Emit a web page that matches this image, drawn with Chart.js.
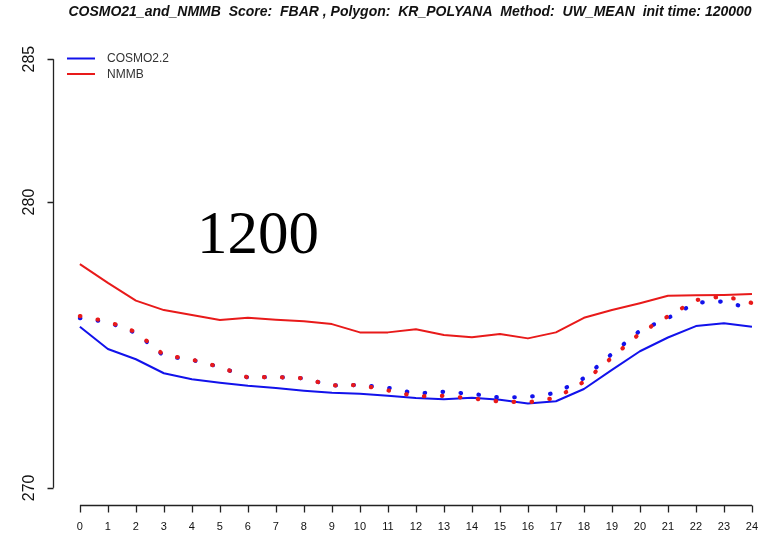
<!DOCTYPE html>
<html>
<head>
<meta charset="utf-8">
<script src="https://cdn.jsdelivr.net/npm/chart.js@4/dist/chart.umd.min.js"></script>
<style>
  html, body { margin: 0; padding: 0; background: #ffffff; }
  #wrap { width: 771px; height: 533px; }
</style>
</head>
<body>
<div id="wrap"><canvas id="c" width="771" height="533"></canvas></div>
<script>
// Forecast hour (lead time) of each value
const hours = [0, 1, 2, 3, 4, 5, 6, 7, 8, 9, 10, 11, 12, 13, 14, 15, 16, 17, 18, 19, 20, 21, 22, 23, 24];

// Model mean values (solid lines)
const cosmoMean = [275.64, 274.86, 274.50, 274.01, 273.80, 273.68, 273.57, 273.49, 273.40, 273.33, 273.29, 273.22, 273.14, 273.10, 273.15, 273.08, 272.95, 273.03, 273.46, 274.13, 274.78, 275.26, 275.66, 275.76, 275.64];
const nmmbMean  = [277.83, 277.17, 276.55, 276.22, 276.05, 275.87, 275.95, 275.88, 275.83, 275.73, 275.44, 275.44, 275.55, 275.35, 275.27, 275.38, 275.23, 275.44, 275.95, 276.22, 276.46, 276.72, 276.74, 276.75, 276.78];

// Observed means on each model's points (dotted lines)
const cosmoObs = [275.94, 275.80, 275.42, 274.62, 274.48, 274.23, 273.86, 273.88, 273.83, 273.58, 273.60, 273.50, 273.30, 273.36, 273.29, 273.16, 273.18, 273.32, 273.84, 274.69, 275.50, 275.94, 276.48, 276.52, 276.26];
const nmmbObs  = [276.01, 275.82, 275.45, 274.65, 274.49, 274.23, 273.86, 273.88, 273.83, 273.58, 273.60, 273.41, 273.20, 273.22, 273.13, 273.02, 272.99, 273.15, 273.71, 274.56, 275.41, 276.00, 276.57, 276.71, 276.47];

// Axis ticks
const xTicks = [0, 1, 2, 3, 4, 5, 6, 7, 8, 9, 10, 11, 12, 13, 14, 15, 16, 17, 18, 19, 20, 21, 22, 23, 24];
const yTicks = [270, 280, 285];

const titleText = 'COSMO21_and_NMMB  Score:  FBAR , Polygon:  KR_POLYANA  Method:  UW_MEAN  init time: 120000';
const stampText = '1200';
const legendNames = ['COSMO2.2', 'NMMB'];

const BLUE = 'rgb(18, 18, 235)';
const RED = 'rgb(232, 26, 26)';

const toPoints = (vals) => hours.map((h, i) => ({ x: h, y: vals[i] }));

// Draws the title, the detached axes, the legend and the run stamp
const decorations = {
  id: 'decorations',
  afterDraw(chart) {
    const ctx = chart.ctx;
    const xs = chart.scales.x;
    const ys = chart.scales.y;
    ctx.save();

    // title
    ctx.fillStyle = '#111';
    ctx.font = 'italic bold 14px "Liberation Sans", Arial, sans-serif';
    ctx.textAlign = 'center';
    ctx.textBaseline = 'middle';
    ctx.fillText(titleText, 410, 12);

    ctx.strokeStyle = '#222';
    ctx.lineWidth = 1.3;

    // x axis
    const xAxisY = chart.chartArea.bottom + 0.5;
    ctx.beginPath();
    ctx.moveTo(xs.getPixelForValue(xTicks[0]), xAxisY);
    ctx.lineTo(xs.getPixelForValue(xTicks[xTicks.length - 1]), xAxisY);
    xTicks.forEach(t => {
      const px = Math.round(xs.getPixelForValue(t)) + 0.5;
      ctx.moveTo(px, xAxisY);
      ctx.lineTo(px, xAxisY + 7);
    });
    ctx.stroke();
    ctx.fillStyle = '#111';
    ctx.font = '11px "Liberation Sans", Arial, sans-serif';
    ctx.textAlign = 'center';
    ctx.textBaseline = 'middle';
    xTicks.forEach(t => ctx.fillText(String(t), xs.getPixelForValue(t), 527));

    // y axis (from lowest to highest labelled tick)
    const yAxisX = chart.chartArea.left + 0.5;
    ctx.beginPath();
    ctx.moveTo(yAxisX, ys.getPixelForValue(yTicks[0]));
    ctx.lineTo(yAxisX, ys.getPixelForValue(yTicks[yTicks.length - 1]));
    yTicks.forEach(t => {
      const py = Math.round(ys.getPixelForValue(t)) + 0.5;
      ctx.moveTo(yAxisX, py);
      ctx.lineTo(yAxisX - 6, py);
    });
    ctx.stroke();
    ctx.font = '16px "Liberation Sans", Arial, sans-serif';
    yTicks.forEach(t => {
      ctx.save();
      ctx.translate(30, ys.getPixelForValue(t));
      ctx.rotate(-Math.PI / 2);
      ctx.fillText(String(t), 0, 0);
      ctx.restore();
    });

    // legend
    const legendColors = [BLUE, RED];
    ctx.font = '12px "Liberation Sans", Arial, sans-serif';
    ctx.textAlign = 'left';
    legendNames.forEach((name, i) => {
      const ly = 58.5 + i * 15.5;
      ctx.strokeStyle = legendColors[i];
      ctx.lineWidth = 2;
      ctx.beginPath();
      ctx.moveTo(67, ly);
      ctx.lineTo(95, ly);
      ctx.stroke();
      ctx.fillStyle = '#333';
      ctx.fillText(name, 107, ly + 0.5);
    });

    // run stamp
    ctx.fillStyle = '#000';
    ctx.font = '61px "Liberation Serif", "Times New Roman", serif';
    ctx.textAlign = 'left';
    ctx.textBaseline = 'alphabetic';
    ctx.fillText(stampText, 197, 253);

    ctx.restore();
  }
};

const dotted = { borderWidth: 4.2, borderDash: [0.5, 17.5], borderCapStyle: 'round', pointRadius: 0, tension: 0, fill: false };
const solid = { borderWidth: 2, pointRadius: 0, tension: 0, fill: false, borderJoinStyle: 'round' };

new Chart(document.getElementById('c'), {
  type: 'line',
  data: {
    datasets: [
      Object.assign({ label: 'NMMB obs', data: toPoints(nmmbObs), borderColor: RED }, dotted),
      Object.assign({ label: 'COSMO2.2 obs', data: toPoints(cosmoObs), borderColor: BLUE }, dotted),
      Object.assign({ label: legendNames[0], data: toPoints(cosmoMean), borderColor: BLUE }, solid),
      Object.assign({ label: legendNames[1], data: toPoints(nmmbMean), borderColor: RED }, solid)
    ]
  },
  options: {
    responsive: false,
    animation: false,
    devicePixelRatio: 1,
    layout: { padding: { left: 53, top: 42, right: 0, bottom: 28 } },
    plugins: { legend: { display: false }, title: { display: false }, tooltip: { enabled: false } },
    scales: {
      x: { type: 'linear', display: false, min: -0.96, max: 24.68 },
      y: { type: 'linear', display: false, min: 269.4, max: 285.6 }
    }
  },
  plugins: [decorations]
});
</script>
</body>
</html>
